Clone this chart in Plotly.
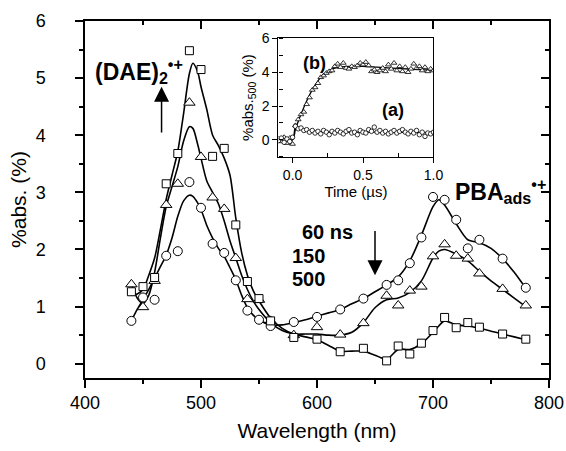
import plotly.graph_objects as go

# measured points (nm, %abs.)
wl = [440, 450, 460, 470, 480, 490, 500, 510, 520, 530, 540, 550, 560, 580,
      600, 620, 640, 660, 670, 680, 690, 700, 710, 720, 730, 740, 760, 780]
abs_60ns = [0.75, 1.16, 1.12, 1.89, 1.97, 3.18, 2.73, 2.10, 1.94, 1.46, 0.93, 0.77, 0.66, 0.73,
            0.82, 0.95, 1.14, 1.38, 1.46, 1.76, 2.21, 2.92, 2.87, 2.52, 2.02, 2.17, 1.84, 1.33]
abs_150ns = [1.39, 0.99, 1.45, 2.78, 3.15, 4.57, 3.62, 2.91, 2.71, 1.85, 1.13, 1.12, 0.75, 0.50,
             0.64, 0.51, 0.71, 1.19, 1.02, 1.28, 1.35, 1.88, 2.09, 1.89, 1.84, 1.58, 1.31, 1.02]
abs_500ns = [1.26, 1.35, 1.51, 3.15, 3.68, 5.48, 5.15, 3.63, 3.77, 2.43, 1.44, 1.14, 0.75, 0.46,
             0.43, 0.21, 0.27, 0.05, 0.31, 0.17, 0.36, 0.58, 0.81, 0.63, 0.72, 0.64, 0.52, 0.43]

# smooth fitted curves
fit_wl = [440, 445, 450, 455, 460, 465, 470, 475, 480, 485, 490, 493, 497, 500, 505, 510, 515,
          520, 525, 530, 535, 540, 545, 550, 560, 570, 580, 590, 600, 610, 620, 630, 640, 650,
          660, 670, 680, 690, 700, 705, 710, 720, 730, 740, 750, 760, 770, 780]
fit_60ns = [0.75, 0.95, 1.12, 1.30, 1.50, 1.70, 1.90, 2.20, 2.58, 2.85, 2.95, 2.93, 2.82, 2.70,
            2.42, 2.20, 2.02, 1.88, 1.68, 1.47, 1.20, 0.98, 0.85, 0.77, 0.68, 0.68, 0.72, 0.77,
            0.83, 0.89, 0.95, 1.05, 1.14, 1.26, 1.38, 1.52, 1.80, 2.25, 2.75, 2.87, 2.78, 2.45,
            2.17, 2.12, 2.02, 1.84, 1.60, 1.32]
fit_150ns = [1.39, 1.15, 1.05, 1.20, 1.60, 2.20, 2.75, 3.10, 3.45, 3.90, 4.15, 4.12, 3.85, 3.60,
             3.20, 3.00, 2.80, 2.50, 2.15, 1.85, 1.55, 1.30, 1.10, 0.95, 0.72, 0.58, 0.52, 0.52,
             0.52, 0.50, 0.50, 0.55, 0.72, 0.98, 1.12, 1.15, 1.25, 1.45, 1.85, 1.97, 2.00, 1.92,
             1.80, 1.62, 1.45, 1.30, 1.15, 1.00]
fit_500ns = [1.20, 1.22, 1.30, 1.55, 1.85, 2.35, 2.88, 3.30, 3.72, 4.38, 5.08, 5.26, 5.12, 4.85,
             4.45, 4.00, 3.82, 3.60, 3.30, 2.55, 1.95, 1.55, 1.28, 1.10, 0.80, 0.62, 0.52, 0.47,
             0.42, 0.32, 0.22, 0.22, 0.22, 0.15, 0.08, 0.25, 0.25, 0.35, 0.55, 0.66, 0.75, 0.68,
             0.66, 0.62, 0.57, 0.52, 0.47, 0.42]

# inset: kinetic traces at 500 nm
t_us = [-0.10, -0.08, -0.06, -0.04, -0.02, 0.00, 0.02, 0.04, 0.06, 0.08, 0.10, 0.12, 0.14, 0.16,
        0.18, 0.20, 0.22, 0.24, 0.26, 0.28, 0.30, 0.32, 0.34, 0.36, 0.38, 0.40, 0.42, 0.44,
        0.46, 0.48, 0.50, 0.52, 0.54, 0.56, 0.58, 0.60, 0.62, 0.64, 0.66, 0.68, 0.70, 0.72,
        0.74, 0.76, 0.78, 0.80, 0.82, 0.84, 0.86, 0.88, 0.90, 0.92, 0.94, 0.96, 0.98, 1.00]
kin_b = [0.05, -0.10, 0.15, -0.20, 0.10, -0.25, 0.85, 1.20, 1.50, 1.65, 2.10, 2.50, 2.95, 3.10,
         3.35, 3.70, 3.80, 3.95, 4.05, 4.10, 4.35, 4.50, 4.30, 4.55, 4.25, 4.20, 4.35, 4.30,
         4.40, 4.55, 4.45, 4.60, 4.40, 4.05, 4.15, 4.00, 4.10, 4.25, 4.05, 4.45, 4.20, 4.55,
         4.10, 4.35, 4.05, 4.30, 4.00, 4.20, 4.50, 4.25, 4.35, 4.10, 4.30, 4.05, 4.20, 4.10]
kin_a = [-0.05, 0.10, -0.15, 0.05, -0.10, 0.15, 0.80, 0.65, 0.70, 0.55, 0.60, 0.45, 0.55, 0.40,
         0.50, 0.35, 0.55, 0.45, 0.30, 0.50, 0.40, 0.55, 0.45, 0.35, 0.50, 0.60, 0.40, 0.45,
         0.30, 0.55, 0.45, 0.40, 0.60, 0.50, 0.75, 0.45, 0.55, 0.40, 0.50, 0.35, 0.45, 0.55,
         0.40, 0.50, 0.60, 0.45, 0.35, 0.50, 0.40, 0.55, 0.30, 0.45, 0.20, 0.40, 0.35, 0.45]
fit_t_b = [-0.10, 0.00, 0.02, 0.05, 0.10, 0.15, 0.20, 0.25, 0.30, 0.40, 0.50, 0.60, 0.70, 0.80, 0.90, 1.00]
fit_b = [0.00, 0.00, 0.60, 1.30, 2.30, 3.10, 3.70, 4.05, 4.25, 4.35, 4.35, 4.30, 4.25, 4.20, 4.15, 4.12]
fit_t_a = [-0.10, 0.00, 0.02, 0.05, 0.10, 0.20, 0.40, 0.60, 0.80, 1.00]
fit_a = [0.00, 0.00, 0.75, 0.65, 0.55, 0.48, 0.45, 0.45, 0.44, 0.42]

FONT = "Liberation Sans, Arial, sans-serif"

fig = go.Figure()

for fy in [fit_60ns, fit_150ns, fit_500ns]:
    fig.add_trace(go.Scatter(x=fit_wl, y=fy, mode="lines",
                             line=dict(color="black", width=1.6, shape="spline", smoothing=0.8),
                             showlegend=False, hoverinfo="skip"))

markers = [(abs_60ns, "circle", 9), (abs_150ns, "triangle-up", 10), (abs_500ns, "square", 8)]
for ys, sym, sz in markers:
    fig.add_trace(go.Scatter(x=wl, y=ys, mode="markers",
                             marker=dict(symbol=sym, size=sz, color="white",
                                         line=dict(color="black", width=1)),
                             showlegend=False))

# invisible trace so the mirrored (inside-tick) axes are drawn
fig.add_trace(go.Scatter(x=wl, y=abs_60ns, xaxis="x3", yaxis="y3", mode="markers",
                         marker=dict(opacity=0), showlegend=False, hoverinfo="skip"))

# inset
for tx, fy in [(fit_t_b, fit_b), (fit_t_a, fit_a)]:
    fig.add_trace(go.Scatter(x=tx, y=fy, xaxis="x2", yaxis="y2", mode="lines",
                             line=dict(color="black", width=1.3, shape="spline", smoothing=0.8),
                             showlegend=False, hoverinfo="skip"))
fig.add_trace(go.Scatter(x=t_us, y=kin_b, xaxis="x2", yaxis="y2", mode="markers",
                         marker=dict(symbol="triangle-up", size=5, color="white",
                                     line=dict(color="black", width=0.8)), showlegend=False))
fig.add_trace(go.Scatter(x=t_us, y=kin_a, xaxis="x2", yaxis="y2", mode="markers",
                         marker=dict(symbol="circle", size=4.5, color="white",
                                     line=dict(color="black", width=0.8)), showlegend=False))

axis_common = dict(showgrid=False, zeroline=False, showline=True, linecolor="black",
                   linewidth=1.5, tickcolor="black", tickwidth=1.5, automargin=False)
mirror_common = dict(ticks="inside", ticklen=8, tickwidth=1.5, tickcolor="black",
                     showticklabels=False, showgrid=False, zeroline=False, showline=False,
                     automargin=False)
inset_common = dict(showgrid=False, zeroline=False, showline=True, linecolor="black",
                    linewidth=1.2, tickcolor="black", tickwidth=1.2, automargin=False,
                    mirror=True, ticks="outside", ticklen=5, tickfont=dict(size=14))

fig.update_layout(
    template="none",
    width=566, height=451,
    margin=dict(l=85, r=17, t=21, b=73),
    paper_bgcolor="white", plot_bgcolor="white",
    font=dict(family=FONT, color="black"),
    xaxis=dict(range=[400, 800], tick0=400, dtick=100, ticks="outside", ticklen=8,
               mirror=True, tickfont=dict(size=18),
               minor=dict(dtick=50, ticks="outside", ticklen=4, tickcolor="black", tickwidth=1.5),
               title=dict(text="Wavelength (nm)", font=dict(size=21), standoff=11),
               **axis_common),
    yaxis=dict(range=[-0.25, 6], tick0=0, dtick=1, ticks="outside", ticklen=8,
               mirror=True, tickfont=dict(size=18), ticklabelstandoff=26,
               minor=dict(dtick=0.5, ticks="outside", ticklen=4, tickcolor="black", tickwidth=1.5),
               title=dict(text="%abs. (%)", font=dict(size=21), standoff=3),
               **axis_common),
    xaxis3=dict(overlaying="x", side="top", anchor="y", range=[400, 800], tick0=400, dtick=100,
                minor=dict(dtick=50, ticks="inside", ticklen=4, tickcolor="black", tickwidth=1.5),
                **mirror_common),
    yaxis3=dict(overlaying="y", side="right", anchor="x", range=[-0.25, 6], tick0=0, dtick=1,
                minor=dict(dtick=0.5, ticks="inside", ticklen=4, tickcolor="black", tickwidth=1.5),
                **mirror_common),
    xaxis2=dict(domain=[0.417, 0.751], anchor="y2", range=[-0.1, 1.0],
                tickvals=[0, 0.5, 1.0], ticktext=["0.0", "0.5", "1.0"],
                minor=dict(tickvals=[0.25, 0.75], ticks="inside", ticklen=4,
                           tickcolor="black", tickwidth=1.2),
                title=dict(text="Time (µs)", font=dict(size=15), standoff=4),
                **inset_common),
    yaxis2=dict(domain=[0.620, 0.951], anchor="x2", range=[-1, 6], tick0=0, dtick=2,
                minor=dict(dtick=1, ticks="inside", ticklen=4, tickcolor="black", tickwidth=1.2),
                title=dict(text="%abs.<sub>500</sub> (%)", font=dict(size=15), standoff=4),
                **inset_common),
)

bold = dict(family=FONT, color="black")
fig.add_annotation(x=407, y=5.12, text="<b>(DAE)<sub>2</sub><sup>•+</sup></b>", showarrow=False,
                   xanchor="left", yanchor="middle", font=dict(size=23, **bold))
fig.add_annotation(x=717, y=3.02, text="<b>PBA<sub>ads</sub><sup>•+</sup></b>", showarrow=False,
                   xanchor="left", yanchor="middle", font=dict(size=23, **bold))
fig.add_annotation(x=585, y=2.30, text="<b>60 ns</b>", showarrow=False,
                   xanchor="left", yanchor="middle", font=dict(size=20, **bold))
fig.add_annotation(x=609, y=1.89, text="<b>150</b>", showarrow=False,
                   xanchor="right", yanchor="middle", font=dict(size=20, **bold))
fig.add_annotation(x=609, y=1.49, text="<b>500</b>", showarrow=False,
                   xanchor="right", yanchor="middle", font=dict(size=20, **bold))

# arrows: rise of the dimer band, decay of the PBA band
fig.add_annotation(x=466, y=4.85, ax=466, ay=4.02, xref="x", yref="y", axref="x", ayref="y",
                   text="", showarrow=True, arrowhead=2, arrowsize=2, arrowwidth=1.5,
                   arrowcolor="black")
fig.add_annotation(x=650, y=1.55, ax=650, ay=2.35, xref="x", yref="y", axref="x", ayref="y",
                   text="", showarrow=True, arrowhead=2, arrowsize=2, arrowwidth=1.5,
                   arrowcolor="black")

fig.add_annotation(x=0.155, y=4.55, xref="x2", yref="y2", text="<b>(b)</b>", showarrow=False,
                   font=dict(size=18, **bold))
fig.add_annotation(x=0.71, y=1.75, xref="x2", yref="y2", text="<b>(a)</b>", showarrow=False,
                   font=dict(size=18, **bold))

# the page body has a default 8px margin; drop it so the figure sits at the window origin
fig.write_html("out.html", config={"displayModeBar": False},
               post_script="document.body.style.margin='0px';")
